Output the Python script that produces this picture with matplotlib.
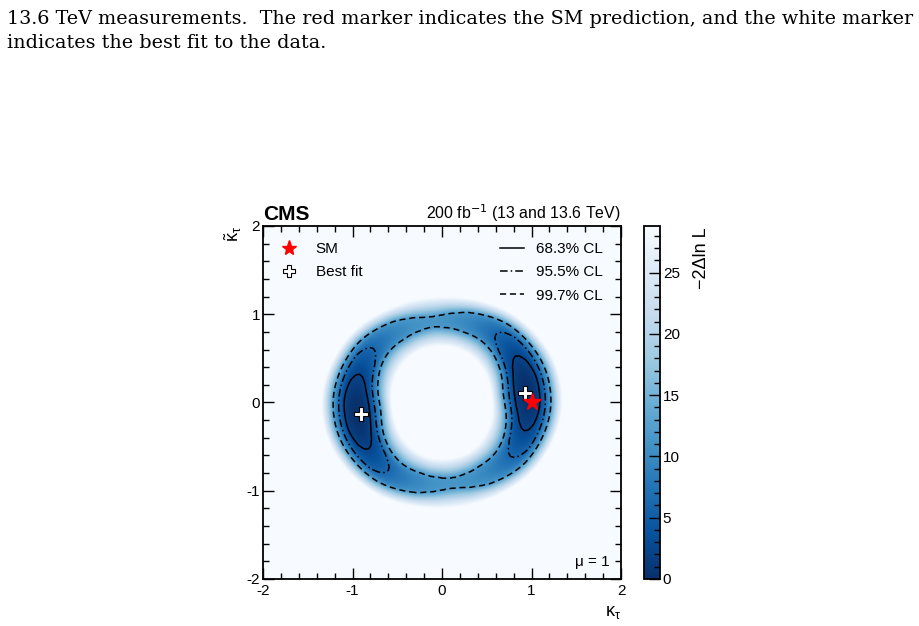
import numpy as np
import matplotlib.pyplot as plt
from matplotlib.lines import Line2D
from matplotlib.ticker import MultipleLocator

plt.rcParams['font.family'] = ['Liberation Sans', 'DejaVu Sans']
plt.rcParams['mathtext.fontset'] = 'dejavusans'
plt.rcParams['axes.unicode_minus'] = False

# best fit points and SM expectation (kappa_tau, kappa_tilde_tau)
bf_kappa = [0.93, -0.91]
bf_kappat = [0.11, -0.125]
sm_kappa = [1.0]
sm_kappat = [0.0]

# likelihood valley, every 15 degrees away from
# the best-fit direction
valley_phi = [0, 15, 30, 45, 60, 75, 90]
valley_min = [0, 0.85, 3.0, 6.1, 8.8, 10.6, 11.3]
valley_radius = [0.955, 0.965, 0.975, 0.98, 0.96, 0.935, 0.92]
valley_width = [0.90, 0.86, 0.80, 0.77, 0.76, 0.77, 0.80]
# radius where the colour reaches the top of the scale (inner / outer side)
white_in = [0.56, 0.57, 0.59, 0.61, 0.63, 0.64, 0.64]
white_out = [1.35, 1.34, 1.31, 1.28, 1.24, 1.21, 1.20]

# rise of -2 dlnL across the valley (distance from the valley centre)
prof_dist = [0, 0.05, 0.10, 0.15, 0.22, 0.29, 0.35, 0.42]
prof_rise = [0, 0.2, 0.8, 2.0, 5.9, 11.5, 20, 35]

cl_levels = [2.30, 6.18, 11.83]
cl_labels = ['68.3% CL', '95.5% CL', '99.7% CL']
cl_styles = ['solid', (0, (5, 2, 1, 2)), (0, (4, 2.5))]
zmax = 28.8


def smooth_table(phi, vals, at):
    # cosine series through the table values (period 180 deg, even in phi)
    p = np.radians(phi)
    n = np.arange(len(phi))
    coef = np.linalg.solve(np.cos(2 * np.outer(p, n)), vals)
    return np.cos(2 * np.radians(at)[..., None] * n) @ coef


# build the scan on a grid
k = np.linspace(-2, 2, 401)
K, KT = np.meshgrid(k, k)
r = np.hypot(K, KT)
th = np.degrees(np.arctan2(KT, K))
th_bf = np.degrees(np.arctan2(bf_kappat[0], bf_kappa[0]))
phi = (th - th_bf + 90) % 180 - 90
m = smooth_table(valley_phi, valley_min, phi)
r0 = smooth_table(valley_phi, valley_radius, phi)
w = smooth_table(valley_phi, valley_width, phi)
rw_in = smooth_table(valley_phi, white_in, phi)
rw_out = smooth_table(valley_phi, white_out, phi)

d = r - r0
ad = np.abs(d)
top = cl_levels[-1]
h99 = w * np.interp(top - m, prof_rise, prof_dist)
near = m + np.interp(ad / w, prof_dist, prof_rise)
dwhite = np.where(d < 0, r0 - rw_in, rw_out - r0)
far = top + (zmax - top) * (ad - h99) / (dwhite - h99)
nll = np.where(ad <= h99, near, far)

fig = plt.figure(figsize=(9.19, 6.26), dpi=100)

# caption text above the figure
cap1 = '13.6 TeV measurements.  The red marker indicates the SM prediction, and the white marker'
cap2 = 'indicates the best fit to the data.'
t1 = fig.text(7 / 919, 1 - 24 / 626, cap1, family='DejaVu Serif', fontsize=14, va='baseline')
fig.canvas.draw()
wpx = t1.get_window_extent().width
fs = 14 * 905 / wpx
t1.set_fontsize(fs)
fig.text(7 / 919, 1 - 48 / 626, cap2, family='DejaVu Serif', fontsize=fs, va='baseline')

ax = fig.add_axes([263 / 919, 1 - 579 / 626, 358 / 919, 353 / 626])
im = ax.imshow(nll, origin='lower', extent=[-2, 2, -2, 2], cmap='Blues_r',
               vmin=0, vmax=zmax, interpolation='bilinear', aspect='auto')
for lvl, st in zip(cl_levels, cl_styles):
    cs = ax.contour(K, KT, nll, levels=[lvl], colors='k', linewidths=1.1)
    cs.set_linestyle(st)

ax.plot(bf_kappa, bf_kappat, ls='', marker='P', ms=10, mfc='white', mec='k', mew=0.8, zorder=5)
ax.plot(sm_kappa, sm_kappat, ls='', marker='*', ms=13, color='red', zorder=6)

ax.set_xlim(-2, 2)
ax.set_ylim(-2, 2)
ax.set_xticks([-2, -1, 0, 1, 2])
ax.set_yticks([-2, -1, 0, 1, 2])
ax.xaxis.set_minor_locator(MultipleLocator(0.2))
ax.yaxis.set_minor_locator(MultipleLocator(0.2))
ax.tick_params(which='both', direction='in', top=True, right=True, labelsize=11, width=1)
ax.tick_params(which='major', length=8, pad=2)
ax.tick_params(axis='x', which='major', pad=3.5)
ax.tick_params(which='minor', length=4)
for s in ax.spines.values():
    s.set_linewidth(1.3)

# legends
h1 = [Line2D([], [], ls='', marker='*', ms=11, color='red'),
      Line2D([], [], ls='', marker='P', ms=9, mfc='white', mec='k', mew=0.8)]
leg1 = ax.legend(h1, ['SM', 'Best fit'], loc='upper left', bbox_to_anchor=(0.034, 0.955),
                 frameon=False, fontsize=11, borderpad=0, borderaxespad=0,
                 handlelength=1.8, handletextpad=0.85, labelspacing=0.62)
ax.add_artist(leg1)
h2 = [Line2D([], [], color='k', lw=1.1, ls=s) for s in cl_styles]
ax.legend(h2, cl_labels, loc='upper left', bbox_to_anchor=(0.662, 0.955),
          frameon=False, fontsize=11, borderpad=0, borderaxespad=0,
          handlelength=1.6, handletextpad=0.75, labelspacing=0.62)

ax.text(0.969, 0.037, 'μ = 1', transform=ax.transAxes, ha='right', va='baseline', fontsize=11)

fig.text(263 / 919, 1 - 220 / 626, 'CMS', fontsize=15, fontweight='bold', va='baseline')
fig.text(621 / 919, 1 - 219 / 626, r'200 fb$^{-1}$ (13 and 13.6 TeV)', fontsize=11.4,
         ha='right', va='baseline')
fig.text(233 / 919, 1 - 226 / 626, r'$\mathregular{\tilde{\kappa}_{\tau}}$', fontsize=13,
         rotation=90, ha='center', va='top')
fig.text(621 / 919, 1 - 616 / 626, r'$\mathregular{\kappa_{\tau}}$', fontsize=13,
         ha='right', va='baseline')

cax = fig.add_axes([644 / 919, 1 - 579 / 626, 16 / 919, 353 / 626])
cb = fig.colorbar(im, cax=cax)
cb.set_ticks([0, 5, 10, 15, 20, 25])
cax.yaxis.set_minor_locator(MultipleLocator(1))
cax.tick_params(which='both', direction='in', left=False, right=True, labelsize=11, pad=2)
cax.tick_params(which='major', length=8, width=1)
cax.tick_params(which='minor', length=4, width=1)
cb.outline.set_linewidth(1.3)
fig.text(702 / 919, 1 - 227 / 626, '\u22122\u0394ln L', fontsize=13, rotation=90,
         ha='center', va='top')

fig.savefig('out.png', dpi=100)
